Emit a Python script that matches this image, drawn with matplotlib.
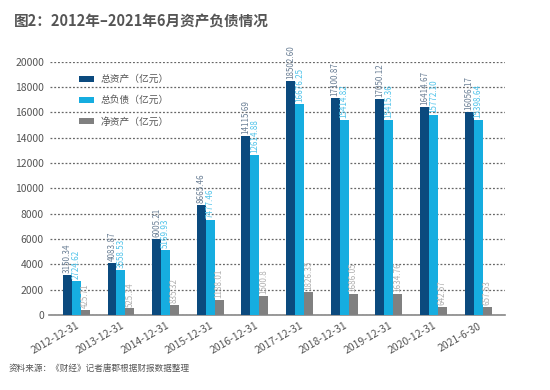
import matplotlib
matplotlib.use("Agg")
import matplotlib.pyplot as plt
import numpy as np

plt.rcParams['font.family'] = ['Noto Sans CJK SC', 'DejaVu Sans']

categories = ["2012-12-31", "2013-12-31", "2014-12-31", "2015-12-31", "2016-12-31",
              "2017-12-31", "2018-12-31", "2019-12-31", "2020-12-31", "2021-6-30"]
total_assets = [3150.34, 4083.87, 6005.21, 8665.46, 14115.69, 18502.60, 17100.87, 17050.12, 16414.67, 16056.17]
total_liab = [2724.62, 3558.53, 5169.93, 7477.46, 12614.88, 16676.25, 15414.82, 15415.36, 15772.10, 15398.64]
net_assets = [425.71, 525.34, 835.32, 1188.01, 1500.8, 1826.35, 1686.05, 1634.76, 642.57, 657.53]
series_names = ["总资产（亿元）", "总负债（亿元）", "净资产（亿元）"]
yticks = [0, 2000, 4000, 6000, 8000, 10000, 12000, 14000, 16000, 18000, 20000]

colors = ["#0b4a7e", "#16ade0", "#808080"]
label_colors = ["#6a7f95", "#4fc3ea", "#b0b0b0"]

fig = plt.figure(figsize=(5.5, 3.9), dpi=100)
ax = fig.add_axes([0.09, 0.192, 0.828, 0.65])

x = np.arange(len(categories))
w = 0.2
for i, vals in enumerate([total_assets, total_liab, net_assets]):
    pos = x + (i - 1) * w
    ax.bar(pos, vals, width=w, color=colors[i], label=series_names[i], zorder=3)
    for p, v in zip(pos, vals):
        txt = "1500.8" if (i == 2 and v == 1500.8) else f"{v:.2f}"
        ax.text(p, v + 150, txt, rotation=90, ha='center', va='bottom', fontsize=5.8,
                color=label_colors[i], zorder=4)

ax.set_ylim(0, 20000)
ax.set_xlim(-0.6, len(categories) - 0.4)
ax.set_yticks(yticks)
ax.set_yticklabels([str(t) for t in yticks], fontsize=7.5, color="#555555")
ax.set_xticks(x)
ax.set_xticklabels(categories, rotation=30, ha='right', rotation_mode='anchor',
                   fontsize=7.5, color="#555555")
ax.tick_params(axis='both', length=0, pad=4)
ax.yaxis.grid(True, linestyle=(0, (1.5, 1.5)), color="#666666", linewidth=0.9, zorder=0)
for s in ["top", "right", "left"]:
    ax.spines[s].set_visible(False)
ax.spines["bottom"].set_color("#888888")
ax.spines["bottom"].set_linewidth(1.2)

leg = ax.legend(loc='upper left', bbox_to_anchor=(0.045, 0.985), frameon=False,
                fontsize=7, handlelength=1.6, handleheight=0.55, labelspacing=1.15,
                handletextpad=0.6, labelcolor="#555555")

fig.text(0.025, 0.945, "图2：2012年–2021年6月资产负债情况", fontsize=10.5,
         fontweight='bold', color="#555555", ha='left', va='center')
fig.text(0.015, 0.055, "资料来源：《财经》记者唐郡根据财报数据整理", fontsize=6.2,
         color="#555555", ha='left', va='center', style='italic')

fig.savefig("out.png", dpi=100)
